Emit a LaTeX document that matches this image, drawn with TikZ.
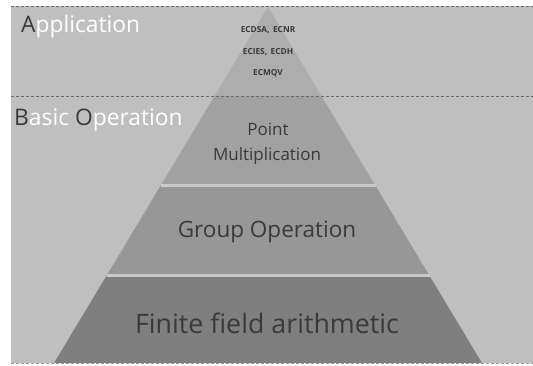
\documentclass[tikz,border=0pt]{standalone}
\usepackage{fontspec}
\setmainfont{Open Sans}
\definecolor{bg}{HTML}{BFBFBF}
\definecolor{tierA}{HTML}{ADADAD}
\definecolor{tierB}{HTML}{A1A1A1}
\definecolor{tierC}{HTML}{979797}
\definecolor{tierD}{HTML}{7F7F7F}
\definecolor{gapc}{HTML}{CACACA}
\definecolor{txt}{HTML}{3A3A3A}
\definecolor{dash}{HTML}{6A6A6A}
\tikzset{
  sep/.style={draw=dash, line width=0.8pt, dash pattern=on 3pt off 2pt},
  layerlabel/.style={anchor=base west, inner sep=0pt, text=white, font=\fontsize{22.8}{26}\selectfont},
  tierlabel/.style={inner sep=0pt, text=txt},
  applabel/.style={inner sep=0pt, text=txt, font=\bfseries\fontsize{8.3}{10}\selectfont},
}
\begin{document}
\begin{tikzpicture}[x=1pt,y=-1pt]
\useasboundingbox (0,0) rectangle (533,365);
\fill[bg] (11,6) rectangle (533,363);
% pyramid tiers (apex 268,7; half width 0.6*(y-7))
\fill[tierA] (268,7) -- (321.4,96) -- (214.6,96) -- cycle;
\fill[tierB] (214.6,96) -- (321.4,96) -- (375,185) -- (161,185) -- cycle;
\fill[tierC] (161,185) -- (375,185) -- (429,275) -- (107,275) -- cycle;
\fill[tierD] (107,275) -- (429,275) -- (482,363) -- (54,363) -- cycle;
\draw[gapc, line width=2.5pt] (160.5,185.5) -- (375.5,185.5);
\draw[gapc, line width=2.5pt] (106.5,275.5) -- (429.5,275.5);
% separators
\draw[sep] (11,6) -- (533,6);
\draw[sep] (11,96) -- (533,96);
\draw[sep, draw=bg!80!black] (11,363.5) -- (533,363.5);
% layer labels
\node[layerlabel] (app) at (21,32) {{\color{txt}A}pplication};
\node[layerlabel] (basic) at (14,125) {{\color{txt}B}asic {\color{txt}O}peration};
% application items
\node[applabel] (a1) at (268,30) {ECDSA,\ \,ECNR};
\node[applabel] (a2) at (268,52) {ECIES,\ \,ECDH};
\node[applabel] (a3) at (268,73) {ECMQV};
% tier labels
\node[tierlabel, font=\fontsize{17}{20}\selectfont] (pm1) at (268,129) {Point};
\node[tierlabel, font=\fontsize{17}{20}\selectfont] (pm2) at (267,156) {Multiplication};
\node[tierlabel, font=\fontsize{22.5}{26}\selectfont] (grp) at (267,232) {Group Operation};
\node[tierlabel, font=\fontsize{26.8}{32}\selectfont] (ff) at (267,323) {Finite field arithmetic};
\end{tikzpicture}
\end{document}
